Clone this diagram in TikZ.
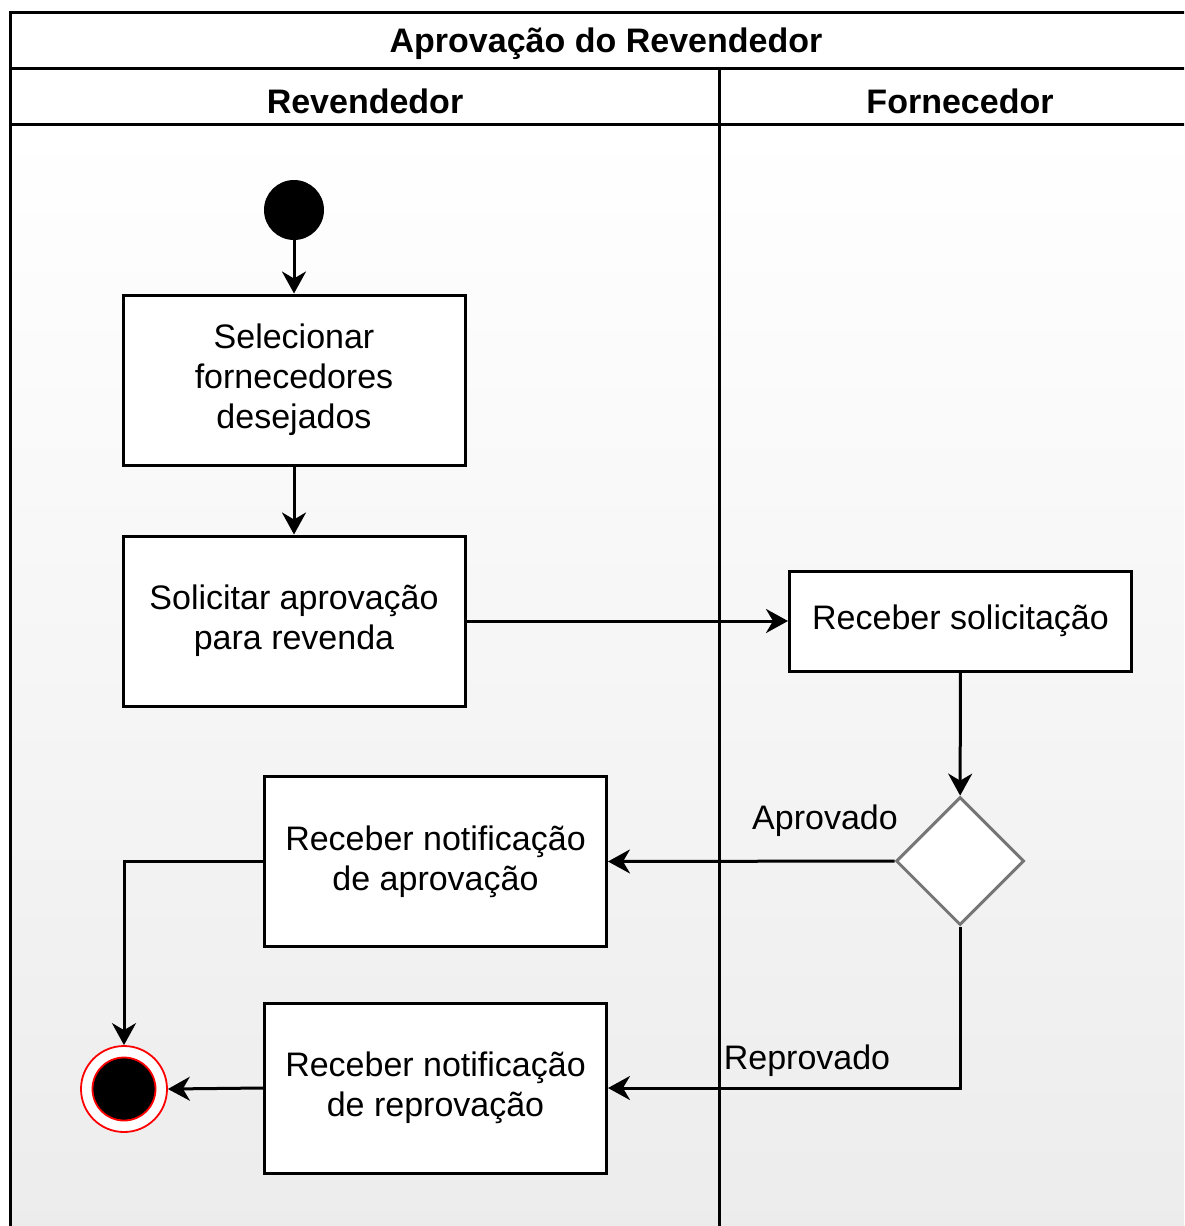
\documentclass[tikz,border=0pt]{standalone}
\usepackage{fontspec}
\setmainfont{Liberation Sans}
\usetikzlibrary{arrows.meta,shapes.geometric,positioning}
\definecolor{lanegray}{RGB}{236,236,236}
\definecolor{decgray}{RGB}{118,118,118}
\definecolor{endred}{RGB}{255,0,0}

\begin{document}
\begin{tikzpicture}[x=0.5pt,y=-0.5pt,
  every node/.style={font=\fontsize{17}{20}\selectfont},
  actbox/.style={draw, line width=1.5pt, fill=white, align=center, inner sep=0pt,
    minimum width=171pt, minimum height=85pt},
  decbox/.style={diamond, draw=decgray, line width=1.5pt, fill=white, inner sep=0pt,
    minimum width=64pt, minimum height=64pt},
  startdot/.style={circle, fill=black, inner sep=0pt, minimum size=30pt},
  enddot/.style={circle, draw=endred, line width=0.9pt, fill=white, inner sep=0pt, minimum size=43pt},
  flow/.style={line width=1.5pt, -{Stealth[length=11pt, width=12pt, inset=3.5pt]}},
  lanehead/.style={font=\fontsize{17}{20}\selectfont\bfseries}]
  \useasboundingbox (0,0) rectangle (1184,1226);
  \clip (0,0) rectangle (1184,1226);

  % Pool and lanes
  \fill[white] (0,0) rectangle (1184,1226);
  \shade[top color=white, bottom color=lanegray] (10,124) rectangle (1202,1240);
  \draw[line width=1.5pt] (10,1240) -- (10,12) -- (1202,12);
  \draw[line width=1.5pt] (10,68) -- (1202,68);
  \draw[line width=1.5pt] (10,124) -- (1202,124);
  \draw[line width=1.5pt] (719,68) -- (719,1240);
  \node[lanehead] (pool) at (606,44) {Aprovação do Revendedor};
  \node[lanehead] (laneA) at (365,101) {Revendedor};
  \node[lanehead] (laneB) at (960,101) {Fornecedor};

  % Activities
  \node[startdot] (start) at (294,210) {};
  \node[actbox] (select) at (294,380) {Selecionar\\fornecedores\\desejados};
  \node[actbox] (request) at (294,621) {Solicitar aprovação\\para revenda};
  \node[actbox, minimum height=50pt] (receive) at (960.5,621) {Receber solicitação};
  \node[decbox] (dec) at (960,861) {};
  \node[actbox] (approved) at (435.5,861.5) {Receber notificação\\de aprovação};
  \node[actbox] (rejected) at (435.5,1088) {Receber notificação\\de reprovação};
  \node[enddot] (end) at (124,1089) {};
  \draw[endred, line width=0.9pt, fill=black] (end.center) circle (31.5);

  % Flows
  \draw[flow] (start) -- (select);
  \draw[flow] (select) -- (request);
  \draw[flow] (request) -- (receive);
  \draw[flow] (receive) -- (dec);
  \draw[flow] (dec.west) -- (approved.east);
  \draw[flow] (dec.south) |- (rejected.east);
  \draw[flow] (approved.west) -| (end.north);
  \draw[flow] (rejected.west) -- (end.east);

  % Guard labels
  \node (yes) at (825,821) {Aprovado};
  \node (no) at (807,1061) {Reprovado};
\end{tikzpicture}
\end{document}
